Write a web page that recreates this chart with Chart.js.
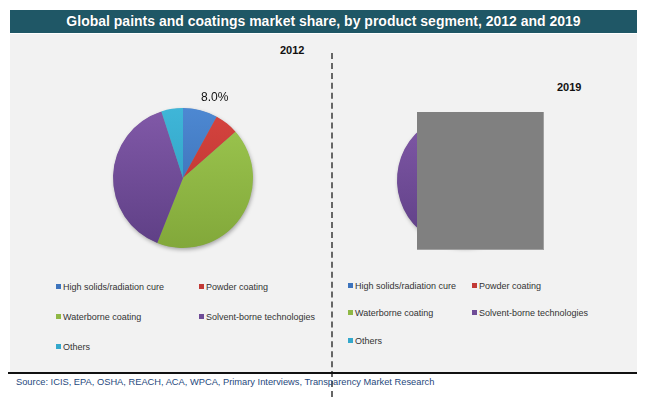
<!DOCTYPE html>
<html>
<head>
<meta charset="utf-8">
<script src="https://cdn.jsdelivr.net/npm/chart.js@4.4.0/dist/chart.umd.min.js"></script>
<style>
  body { margin: 0; background: #fff; width: 650px; height: 397px; position: relative; overflow: hidden; font-family: "Liberation Sans", Arial, sans-serif; }
  #header { position: absolute; left: 10px; top: 10px; width: 627px; height: 23px; background: #1f5766; color: #fff; font-weight: bold; font-size: 14px; line-height: 23px; text-align: center; text-shadow: 0 0 1px rgba(0,0,0,0.4); }
  #panel { position: absolute; left: 10px; top: 34px; width: 627px; height: 338px; background: #f2f2f2; }
  #rule { position: absolute; left: 8px; top: 372px; width: 629px; height: 2px; background: #111; }
  #source { position: absolute; left: 16px; top: 377px; font-size: 9.3px; color: #1f497d; }
  #divider { position: absolute; left: 331px; top: 53px; width: 0; height: 344px; border-left: 2px dashed #666; }
  .year { position: absolute; font-weight: bold; font-size: 11px; color: #111; }
  canvas { position: absolute; }
  .legend { position: absolute; font-size: 9px; color: #333; }
  .legend div { position: absolute; white-space: nowrap; }
  .legend span { display: inline-block; width: 5px; height: 5px; margin-right: 2px; vertical-align: 1px; }
  #mask { position: absolute; left: 417px; top: 112px; width: 126px; height: 137px; background: #808080; border-right: 1px solid #a0a0a0; border-bottom: 1px solid #a0a0a0; }
</style>
</head>
<body>
<div id="panel"></div>
<div id="header">Global paints and coatings market share, by product segment, 2012 and 2019</div>
<div id="divider"></div>
<div class="year" style="left:280px; top:44px;">2012</div>
<div class="year" style="left:557px; top:81px;">2019</div>
<canvas id="pie2012" width="170" height="200" style="left:100px; top:80px;"></canvas>
<canvas id="pie2019" width="170" height="180" style="left:380px; top:90px;"></canvas>
<div id="mask"></div>
<div class="legend" id="legend2012"></div>
<div class="legend" id="legend2019"></div>
<div id="rule"></div>
<div id="source">Source: ICIS, EPA, OSHA, REACH, ACA, WPCA, Primary Interviews, Transparency Market Research</div>
<script>
const segments = ['High solids/radiation cure', 'Powder coating', 'Waterborne coating', 'Solvent-borne technologies', 'Others'];
const share2012 = [8.0, 5.5, 42.5, 39.0, 5.0];
const share2019 = [9.5, 7.0, 45.0, 34.0, 4.5];
const shownLabels2012 = ['8.0%', '', '', '', ''];

const topColors = ['#4d88d2', '#d6443f', '#9dc750', '#8159a8', '#3fb6d8'];
const bottomColors = ['#3568ab', '#b3302d', '#82a83a', '#5e3f85', '#2a97ba'];
const legendColors = ['#3d74bd', '#c23a36', '#8fb845', '#6f4c97', '#34a8cc'];

function sliceFill(context) {
  const chart = context.chart;
  const area = chart.chartArea;
  const i = context.dataIndex;
  if (!area) return topColors[i];
  const g = chart.ctx.createLinearGradient(0, area.top, 0, area.bottom);
  g.addColorStop(0, topColors[i]);
  g.addColorStop(1, bottomColors[i]);
  return g;
}

const shadowPlugin = {
  id: 'pieShadow',
  beforeDatasetsDraw(chart) {
    const arc = chart.getDatasetMeta(0).data[0];
    if (!arc) return;
    const ctx = chart.ctx;
    ctx.save();
    ctx.shadowColor = 'rgba(0,0,0,0.35)';
    ctx.shadowBlur = 4;
    ctx.shadowOffsetX = 1;
    ctx.shadowOffsetY = 2;
    ctx.fillStyle = '#888';
    ctx.beginPath();
    ctx.arc(arc.x, arc.y, arc.outerRadius - 0.5, 0, Math.PI * 2);
    ctx.fill();
    ctx.restore();
  }
};

const valueLabelPlugin = {
  id: 'valueLabel',
  afterDatasetsDraw(chart, args, opts) {
    if (!opts.labels) return;
    const ctx = chart.ctx;
    chart.getDatasetMeta(0).data.forEach((arc, i) => {
      const txt = opts.labels[i];
      if (!txt) return;
      const a = arc.startAngle + (arc.endAngle - arc.startAngle) * 0.75;
      const r = arc.outerRadius + 16;
      ctx.save();
      ctx.font = '12px "Liberation Sans", Arial, sans-serif';
      ctx.fillStyle = '#111';
      ctx.textAlign = 'center';
      ctx.textBaseline = 'middle';
      ctx.fillText(txt, arc.x + Math.cos(a) * r, arc.y + Math.sin(a) * r);
      ctx.restore();
    });
  }
};

function makePie(id, values, padding, labels) {
  return new Chart(document.getElementById(id), {
    type: 'pie',
    data: {
      labels: segments,
      datasets: [{ data: values, backgroundColor: sliceFill, borderWidth: 0 }]
    },
    options: {
      responsive: false,
      animation: false,
      layout: { padding: padding },
      plugins: {
        legend: { display: false },
        tooltip: { enabled: false },
        valueLabel: { labels: labels }
      }
    },
    plugins: [shadowPlugin, valueLabelPlugin]
  });
}

makePie('pie2012', share2012, { left: 13, right: 17, top: 28, bottom: 32 }, shownLabels2012);
makePie('pie2019', share2019, { left: 17, right: 19, top: 23, bottom: 23 }, null);

function buildLegend(id, cols, rows) {
  const box = document.getElementById(id);
  segments.forEach((name, i) => {
    const d = document.createElement('div');
    d.style.left = cols[i % 2] + 'px';
    d.style.top = rows[Math.floor(i / 2)] + 'px';
    d.innerHTML = '<span style="background:' + legendColors[i] + '"></span>' + name;
    box.appendChild(d);
  });
}
buildLegend('legend2012', [56, 199], [282, 312, 342]);
buildLegend('legend2019', [348, 472], [281, 308, 336]);
</script>
</body>
</html>
